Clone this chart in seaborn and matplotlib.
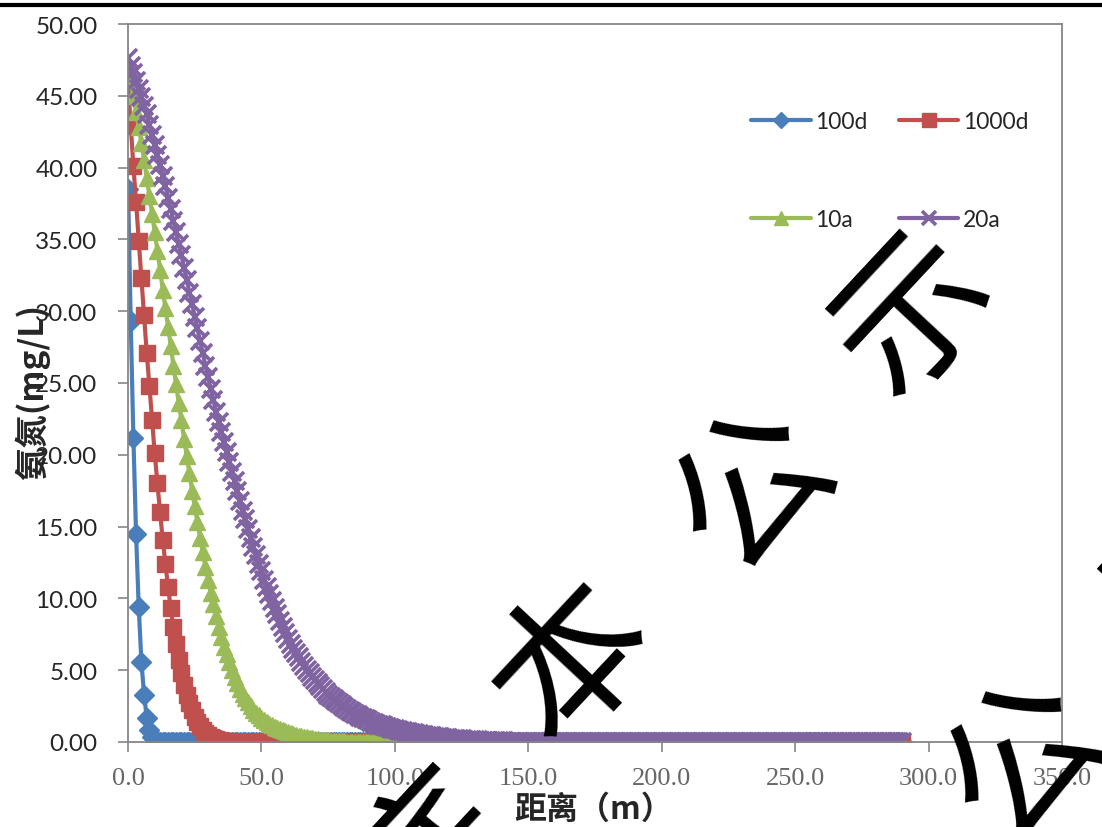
import matplotlib
matplotlib.use('Agg')  # no display
import matplotlib.pyplot as plt
from matplotlib.lines import Line2D
import seaborn as sns

# distance along the flow path (m), one value per metre
distance = list(range(0, 291))

# ammonia nitrogen concentration (mg/L), tail is zero
conc_100d = [38.5, 29.3, 21.2, 14.5, 9.4, 5.6, 3.3, 1.7, 0.8, 0.35, 0.13, 0.04, 0.01]

conc_1000d = [45.8, 42.9, 40.1, 37.6, 34.9, 32.3, 29.7, 27.1, 24.8, 22.4,
              20.1, 18.0, 16.0, 14.1, 12.4, 10.8, 9.3, 8.0, 6.8, 5.7,
              4.8, 4.0, 3.3, 2.7, 2.2, 1.75, 1.4, 1.1, 0.85, 0.65,
              0.5, 0.38, 0.28, 0.2, 0.15, 0.1, 0.07, 0.05, 0.03, 0.02, 0.01]

conc_10a = [46.9, 46.0, 45.0, 43.9, 42.8, 41.7, 40.5, 39.3, 38.0, 36.8,
            35.5, 34.2, 32.9, 31.5, 30.2, 28.9, 27.6, 26.2, 24.9, 23.6,
            22.4, 21.1, 19.9, 18.7, 17.5, 16.4, 15.3, 14.2, 13.2, 12.2,
            11.3, 10.4, 9.6, 8.8, 8.0, 7.3, 6.6, 6.1, 5.6, 5.0,
            4.5, 4.1, 3.7, 3.35, 3.05, 2.75, 2.5, 2.25, 2.05, 1.85,
            1.7, 1.55, 1.4, 1.28, 1.17, 1.07, 0.98, 0.9, 0.82, 0.75,
            0.68, 0.62, 0.56, 0.5, 0.45, 0.4, 0.36, 0.32, 0.28, 0.25,
            0.22, 0.19, 0.17, 0.15, 0.13, 0.11, 0.09, 0.08, 0.07, 0.06,
            0.05, 0.04, 0.03, 0.03, 0.02, 0.02, 0.01]

conc_20a = [47.6, 47.1, 46.6, 46.0, 45.5, 44.9, 44.3, 43.7, 43.0, 42.3,
            41.6, 40.9, 40.2, 39.4, 38.7, 37.9, 37.1, 36.3, 35.5, 34.7,
            33.9, 33.0, 32.2, 31.3, 30.5, 29.6, 28.8, 27.9, 27.1, 26.2,
            25.4, 24.6, 23.8, 23.0, 22.3, 21.6, 20.9, 20.2, 19.5, 18.8,
            18.2, 17.5, 16.8, 16.1, 15.5, 14.8, 14.2, 13.6, 13.0, 12.4,
            11.9, 11.3, 10.8, 10.3, 9.8, 9.3, 8.9, 8.4, 8.0, 7.6,
            7.2, 6.8, 6.5, 6.2, 5.9, 5.6, 5.3, 5.0, 4.8, 4.5,
            4.3, 4.1, 3.9, 3.7, 3.5, 3.3, 3.15, 3.0, 2.85, 2.7,
            2.55, 2.42, 2.3, 2.18, 2.07, 1.96, 1.86, 1.76, 1.67, 1.58,
            1.5, 1.42, 1.35, 1.28, 1.21, 1.15, 1.09, 1.03, 0.98, 0.93,
            0.88, 0.83, 0.79, 0.75, 0.71, 0.67, 0.63, 0.6, 0.56, 0.53,
            0.5, 0.47, 0.44, 0.41, 0.39, 0.36, 0.34, 0.32, 0.3, 0.28,
            0.26, 0.24, 0.22, 0.21, 0.19, 0.18, 0.16, 0.15, 0.14, 0.13,
            0.12, 0.11, 0.1, 0.09, 0.08, 0.07, 0.07, 0.06, 0.05, 0.05,
            0.04, 0.04, 0.03, 0.03, 0.02, 0.02, 0.02, 0.01, 0.01, 0.01, 0.01]

series_labels = ['100d', '1000d', '10a', '20a']
y_ticks = [0, 5, 10, 15, 20, 25, 30, 35, 40, 45, 50]
x_ticks = [0, 50, 100, 150, 200, 250, 300, 350]


def pad(values):
    # values past the end of each list are read as 0.00
    return values + [0.0] * (len(distance) - len(values))


sns.set_theme(style='white')
plt.rcParams['font.family'] = ['Lato', 'Noto Sans CJK SC', 'DejaVu Sans']

fig, ax = plt.subplots(figsize=(11.02, 8.28), dpi=100)
fig.subplots_adjust(left=0.1162, right=0.9637, top=0.9698, bottom=0.1027)

styles = [
    ('#4A7EBB', 'D', 10, 1.0),
    ('#C0504D', 's', 12, 1.0),
    ('#9BBB59', '^', 12, 1.0),
    ('#8064A2', 'x', 13, 2.6),
]
for label, values, (color, marker, ms, mew) in zip(
        series_labels, [conc_100d, conc_1000d, conc_10a, conc_20a], styles):
    sns.lineplot(x=distance, y=pad(values), ax=ax, color=color,
                 marker=marker, markersize=ms, markeredgecolor=color,
                 markeredgewidth=mew, linewidth=3, label=label,
                 estimator=None)

ax.set_xlim(0, 350)
ax.set_ylim(0, 50)
ax.set_xticks(x_ticks)
ax.set_xticklabels([f'{v:.1f}' for v in x_ticks], family='Liberation Serif',
                   fontsize=19, color='#666666')
ax.set_yticks(y_ticks)
ax.set_yticklabels([f'{v:.2f}' for v in y_ticks], fontsize=17.5,
                   color='#262626')
ax.tick_params(axis='both', direction='out', length=7, width=1.2,
               color='#868686', left=True, bottom=True)
ax.tick_params(axis='y', pad=15)
ax.tick_params(axis='x', pad=11)
for sp in ax.spines.values():
    sp.set_color('#868686')
    sp.set_linewidth(1.3)

ax.set_ylabel('氨氮(mg/L)', fontsize=24, fontweight='bold', color='#262626',
              family=['Noto Sans CJK SC', 'DejaVu Sans'])
ax.yaxis.set_label_coords(-0.083, 0.489)
ax.set_xlabel('距离（m）', fontsize=23, fontweight='bold', color='#262626',
              family=['Noto Sans CJK SC', 'DejaVu Sans'])
ax.xaxis.set_label_coords(0.499, -0.071)

# legend reads row by row: 100d 1000d / 10a 20a
handles, labels = ax.get_legend_handles_labels()
order = [0, 2, 1, 3]
ax.legend([handles[i] for i in order], [labels[i] for i in order],
          ncol=2, frameon=False, loc='upper left',
          bbox_to_anchor=(0.655, 0.895), borderpad=0, labelspacing=3.35,
          handlelength=2.6, handletextpad=0.2, columnspacing=1.35,
          markerscale=0.8, prop={'family': 'Lato', 'size': 16.5})

# rule across the top of the page
fig.add_artist(Line2D([0, 1], [1 - 5.5 / 828] * 2, color='black',
                      linewidth=3, transform=fig.transFigure))

# diagonal watermark
marks = [('示', 915, 316), ('公', 755, 490), ('本', 575, 665),
         ('底', 435, 858), ('公', 1027, 761), ('示', 1187, 576)]
for ch, px, py in marks:
    fig.text(px / 1102, 1 - py / 828, ch, fontsize=112, rotation=47,
             ha='center', va='center', color='black',
             family=['Noto Sans CJK SC'], zorder=10)

plt.savefig('out.png', dpi=100)
plt.close()
